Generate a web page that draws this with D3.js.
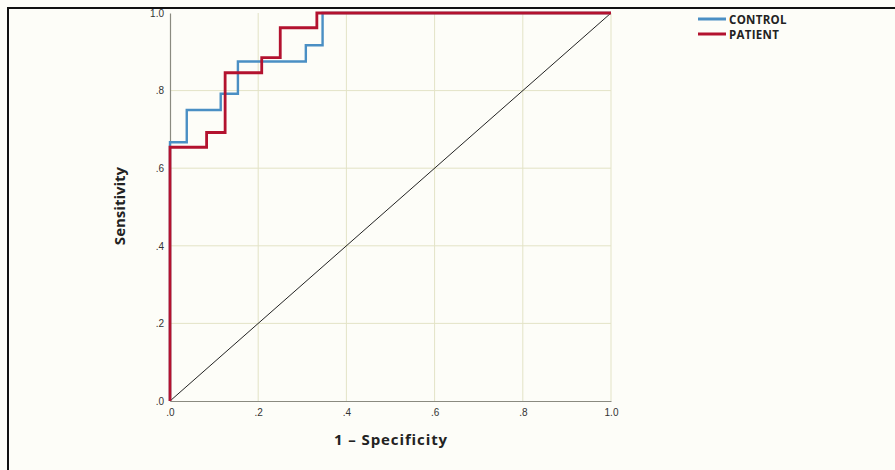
<!DOCTYPE html>
<html>
<head>
<meta charset="utf-8">
<script src="https://cdn.jsdelivr.net/npm/d3@7"></script>
<style>
  html, body { margin: 0; padding: 0; background: #fdfdf8; }
  svg { display: block; }
</style>
</head>
<body>
<svg id="chart" width="895" height="470"></svg>
<script>
// ROC step points (1 - Specificity, Sensitivity)
const controlFpr = [0, 0, 0.038, 0.038, 0.115, 0.115, 0.154, 0.154, 0.308, 0.308, 0.346, 0.346, 1.0];
const controlTpr = [0, 0.667, 0.667, 0.75, 0.75, 0.792, 0.792, 0.875, 0.875, 0.917, 0.917, 1.0, 1.0];
const patientFpr = [0, 0, 0.083, 0.083, 0.125, 0.125, 0.208, 0.208, 0.25, 0.25, 0.333, 0.333, 1.0];
const patientTpr = [0, 0.654, 0.654, 0.692, 0.692, 0.846, 0.846, 0.885, 0.885, 0.962, 0.962, 1.0, 1.0];
const refFpr = [0, 1];
const refTpr = [0, 1];
const tickValues = [0, 0.2, 0.4, 0.6, 0.8, 1.0];
const tickLabels = [".0", ".2", ".4", ".6", ".8", "1.0"];
const seriesNames = ["CONTROL", "PATIENT"];
const seriesColors = ["#4a8fc4", "#b3122f"];

const svg = d3.select("#chart");
const x0 = 170, x1 = 611, y0 = 401, y1 = 13;
const x = d3.scaleLinear().domain([0, 1]).range([x0, x1]);
const y = d3.scaleLinear().domain([0, 1]).range([y0, y1]);

// outer frame (top & left)
svg.append("line").attr("x1", 7).attr("x2", 895).attr("y1", 8).attr("y2", 8)
  .attr("stroke", "#111").attr("stroke-width", 2);
svg.append("line").attr("x1", 8).attr("x2", 8).attr("y1", 7).attr("y2", 470)
  .attr("stroke", "#111").attr("stroke-width", 2);

// gridlines
const grid = svg.append("g");
tickValues.filter(v => v > 0).forEach(v => {
  grid.append("line").attr("x1", x(v)).attr("x2", x(v)).attr("y1", y(0)).attr("y2", y(1))
    .attr("stroke", "#e3e3c6").attr("stroke-width", 1);
  if (v < 1) grid.append("line").attr("x1", x(0)).attr("x2", x(1)).attr("y1", y(v)).attr("y2", y(v))
    .attr("stroke", "#e3e3c6").attr("stroke-width", 1);
});

// axes
const xAxis = d3.axisBottom(x).tickValues(tickValues).tickSize(0).tickPadding(6)
  .tickFormat((d, i) => tickLabels[i]);
const yAxis = d3.axisLeft(y).tickValues(tickValues).tickSize(0).tickPadding(6)
  .tickFormat((d, i) => tickLabels[i]);
const gx = svg.append("g").attr("transform", `translate(0,${y0})`).call(xAxis);
const gy = svg.append("g").attr("transform", `translate(${x0},0)`).call(yAxis);
[gx, gy].forEach(g => {
  g.select(".domain").attr("stroke", "#8a8a80").attr("stroke-width", 1.2);
  g.selectAll("text").attr("font-family", "'Liberation Sans', Arial, sans-serif")
    .attr("font-size", 10).attr("fill", "#333");
});
gx.selectAll("text").attr("dy", "0.9em");

// reference diagonal
const line = d3.line().x(d => x(d[0])).y(d => y(d[1]));
svg.append("path").datum(d3.zip(refFpr, refTpr)).attr("d", line)
  .attr("fill", "none").attr("stroke", "#222").attr("stroke-width", 1);

// ROC curves
const series = [d3.zip(controlFpr, controlTpr), d3.zip(patientFpr, patientTpr)];
const widths = [2.4, 2.8];
series.forEach((s, i) => {
  svg.append("path").datum(s).attr("d", line)
    .attr("fill", "none").attr("stroke", seriesColors[i]).attr("stroke-width", widths[i])
    .attr("stroke-linejoin", "miter");
});

// axis titles
svg.append("text").attr("x", 391).attr("y", 445).attr("text-anchor", "middle")
  .attr("font-family", "'Open Sans', sans-serif").attr("font-weight", "bold")
  .attr("font-size", 15).attr("letter-spacing", 0.9).attr("fill", "#222").text("1 – Specificity");
svg.append("text").attr("transform", "translate(125,206) rotate(-90)").attr("text-anchor", "middle")
  .attr("font-family", "'Open Sans', sans-serif").attr("font-weight", "bold")
  .attr("font-size", 15).attr("fill", "#222").text("Sensitivity");

// legend
const lg = svg.append("g");
seriesNames.forEach((n, i) => {
  const ly = 19 + i * 15;
  lg.append("line").attr("x1", 698).attr("x2", 726).attr("y1", ly).attr("y2", ly)
    .attr("stroke", seriesColors[i]).attr("stroke-width", 3);
  lg.append("text").attr("x", 729).attr("y", ly + 4.5)
    .attr("font-family", "'Open Sans', sans-serif").attr("font-weight", "bold")
    .attr("font-size", 11.5).attr("letter-spacing", 0.3).attr("fill", "#222").text(n);
});
</script>
</body>
</html>
